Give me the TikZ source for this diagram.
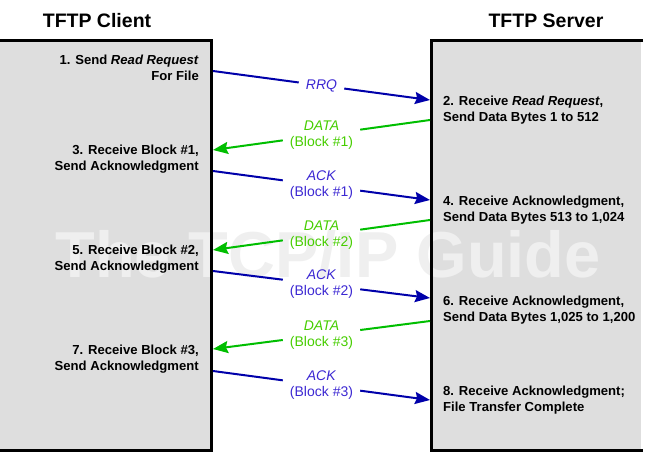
\documentclass[tikz,border=0pt]{standalone}
\usepackage{fontspec}
\setmainfont{Liberation Sans}
\usetikzlibrary{
  arrows.meta,
  positioning
}
\definecolor{boxgray}{RGB}{222,222,222}
\definecolor{markgray}{RGB}{239,239,239}
\definecolor{reqblue}{RGB}{0,0,170}
\definecolor{reqtext}{RGB}{60,40,210}
\definecolor{datagreen}{RGB}{0,190,0}
\definecolor{datatext}{RGB}{70,205,0}

\begin{document}
\begin{tikzpicture}[x=1pt,y=-1pt,
      title/.style={
         inner sep=0pt,
         anchor=base,
         font=\fontsize{19.5}{22}\selectfont\bfseries
      },
      client step/.style={
         inner sep=0pt,
         anchor=north east,
         align=right,
         font=\fontsize{13.1}{16}\selectfont\bfseries
      },
      server step/.style={
         inner sep=0pt,
         anchor=north west,
         align=left,
         font=\fontsize{13.1}{16}\selectfont\bfseries
      },
      msg label/.style={
         inner xsep=7pt,
         inner ysep=1pt,
         align=center,
         font=\fontsize{14}{16}\selectfont
      },
      req label/.style={msg label, text=reqtext},
      data label/.style={msg label, text=datatext},
      reqline/.style={line width=2pt, draw=reqblue},
      dataline/.style={line width=2pt, draw=datagreen},
      tip/.style={-{Stealth[length=15pt,width=12pt,inset=2pt]}},
      lane/.style={line width=3pt}
    ]
    \useasboundingbox (0,0) rectangle (646,456);
    % the two sides
    \fill[boxgray] (-5,40) rectangle (211,450);
    \fill[boxgray] (431,40) rectangle (641,450);
    \node (wm) at (328,277) [anchor=base, inner sep=0pt, text=markgray,
       font=\fontsize{65}{70}\selectfont\bfseries] {The TCP/IP Guide};
    \draw[lane] (-5,40) -| (211,450) -- (-5,450);
    \draw[lane] (643,40) -| (431,450) -- (643,450);
    \node (tc) at (97,27) [title] {TFTP Client};
    \node (ts) at (546,27) [title] {TFTP Server};
    % steps
    \node (n1) at (199,55) [client step] {1. Send \textit{Read Request}\\For File};
    \node (n2) at (443,96) [server step] {2. Receive \textit{Read Request},\\Send Data Bytes 1 to 512};
    \node (n3) at (199,145) [client step] {3. Receive Block \#1,\\Send Acknowledgment};
    \node (n4) at (443,196) [server step] {4. Receive Acknowledgment,\\Send Data Bytes 513 to 1,024};
    \node (n5) at (199,245) [client step] {5. Receive Block \#2,\\Send Acknowledgment};
    \node (n6) at (443,296) [server step] {6. Receive Acknowledgment,\\Send Data Bytes 1,025 to 1,200};
    \node (n7) at (199,345) [client step] {7. Receive Block \#3,\\Send Acknowledgment};
    \node (n8) at (443,386) [server step] {8. Receive Acknowledgment;\\File Transfer Complete};
    % message ends on the two sides
    \coordinate (a1) at (213,71);  \coordinate (b1) at (430,100);
    \coordinate (a2) at (213,150); \coordinate (b2) at (430,120);
    \coordinate (a3) at (213,171); \coordinate (b3) at (430,200);
    \coordinate (a4) at (213,250); \coordinate (b4) at (430,220);
    \coordinate (a5) at (213,271); \coordinate (b5) at (430,298);
    \coordinate (a6) at (213,349); \coordinate (b6) at (430,321);
    \coordinate (a7) at (213,371); \coordinate (b7) at (430,400);
    % messages
    \path (a1) -- (b1) node[midway, req label] (m1) {\textit{RRQ}};
    \draw[reqline] (a1) -- (m1);
    \draw[reqline, tip] (m1) -- (b1);
    \path (b2) -- (a2) node[midway, data label] (m2) {\textit{DATA}\\(Block \#1)};
    \draw[dataline] (b2) -- (m2);
    \draw[dataline, tip] (m2) -- (a2);
    \path (a3) -- (b3) node[midway, req label] (m3) {\textit{ACK}\\(Block \#1)};
    \draw[reqline] (a3) -- (m3);
    \draw[reqline, tip] (m3) -- (b3);
    \path (b4) -- (a4) node[midway, data label] (m4) {\textit{DATA}\\(Block \#2)};
    \draw[dataline] (b4) -- (m4);
    \draw[dataline, tip] (m4) -- (a4);
    \path (a5) -- (b5) node[midway, req label] (m5) {\textit{ACK}\\(Block \#2)};
    \draw[reqline] (a5) -- (m5);
    \draw[reqline, tip] (m5) -- (b5);
    \path (b6) -- (a6) node[midway, data label] (m6) {\textit{DATA}\\(Block \#3)};
    \draw[dataline] (b6) -- (m6);
    \draw[dataline, tip] (m6) -- (a6);
    \path (a7) -- (b7) node[midway, req label] (m7) {\textit{ACK}\\(Block \#3)};
    \draw[reqline] (a7) -- (m7);
    \draw[reqline, tip] (m7) -- (b7);
\end{tikzpicture}
\end{document}
